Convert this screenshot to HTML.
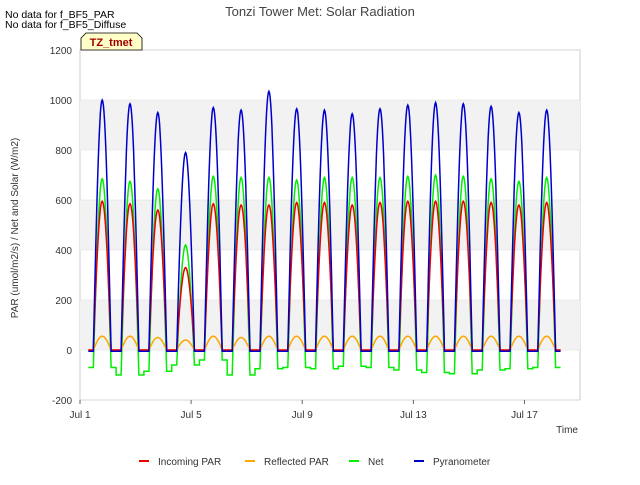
<!DOCTYPE html>
<html><head><meta charset="utf-8"><style>
body{margin:0;background:#fff;font-family:"Liberation Sans",sans-serif;}
svg text{font-family:"Liberation Sans",sans-serif;}
</style></head><body>
<svg id="c" width="640" height="480">
<rect width="640" height="480" fill="#fff"/>
<text x="320" y="16" text-anchor="middle" font-size="13" fill="#444">Tonzi Tower Met: Solar Radiation</text>
<text x="5" y="18" font-size="10.5" fill="#000">No data for f_BF5_PAR</text>
<text x="5" y="28" font-size="10.5" fill="#000">No data for f_BF5_Diffuse</text>
<g id="plot"></g>
<g>
<path d="M81,50 L81,38 L86,33 L137,33 L142,38 L142,50 Z" fill="#ffffc8" stroke="#000" stroke-width="0.8"/>
<text x="111" y="46" text-anchor="middle" font-size="11" font-weight="bold" fill="#a00000">TZ_tmet</text>
</g>
<text transform="translate(18,228) rotate(-90)" text-anchor="middle" font-size="10" fill="#333">PAR (umol/m2/s) / Net and Solar (W/m2)</text>
<text x="578" y="433" text-anchor="end" font-size="10" fill="#333">Time</text>
<g id="legend"></g>
</svg>
<script>
const yTicks=[-200,0,200,400,600,800,1000,1200];
const xTickDays=[1,5,9,13,17];
const xTickLabels=["Jul 1","Jul 5","Jul 9","Jul 13","Jul 17"];
const days=[1,2,3,4,5,6,7,8,9,10,11,12,13,14,15,16,17];
const pyranoPeaks=[1000,985,950,790,970,960,1035,965,960,945,965,980,990,985,975,950,960];
const parPeaks=[595,585,560,330,585,580,580,590,590,580,590,595,595,595,590,580,590];
const netPeaks=[685,675,645,420,695,690,690,680,690,690,690,695,700,695,685,675,690];
const reflPeaks=[55,55,50,40,55,50,55,55,55,55,55,55,55,55,55,55,55];
const netNight=[-70,-100,-85,-60,-40,-100,-75,-70,-75,-65,-70,-80,-90,-95,-80,-75,-70];
const pyranoNight=-5;
const NS="http://www.w3.org/2000/svg";
const L=80,R=580,T=50,B=400;
const xs=d=>L+(d-1)*(R-L)/18;
const ys=v=>B-(v+200)*(B-T)/1400;
const plot=document.getElementById('plot');
function mk(tag,attrs,parent){const e=document.createElementNS(NS,tag);for(const k in attrs)e.setAttribute(k,attrs[k]);(parent||plot).appendChild(e);return e;}
mk('rect',{x:L,y:T,width:R-L,height:B-T,fill:'#fff',stroke:'#ccc'});
for(let i=0;i<yTicks.length-1;i++){
 if(i%2==1){const r=mk('rect',{x:L,y:ys(yTicks[i+1]),width:R-L,height:ys(yTicks[i])-ys(yTicks[i+1]),fill:'#f2f2f2'});
 
 }
}
yTicks.forEach(v=>{
 mk('line',{x1:L,x2:R,y1:ys(v),y2:ys(v),stroke:'#ddd','stroke-width':0.6});
 const t=mk('text',{x:L-8,y:ys(v)+4,'text-anchor':'end','font-size':10,fill:'#333'});t.textContent=v;
 
 
});
xTickDays.forEach((d,i)=>{
 mk('line',{x1:xs(d),x2:xs(d),y1:B,y2:B+4,stroke:'#666'});
 const t=mk('text',{x:xs(d),y:B+18,'text-anchor':'middle','font-size':10,fill:'#333'});t.textContent=xTickLabels[i];
 
 
});
function series(peaks,night,color,name){
 let pts=[];
 days.forEach((d,i)=>{
  const nv=Array.isArray(night)?night[i]:night;
  const s=d+0.48,e=d+1.12;
  pts.push([d+0.3,nv]);
  for(let k=0;k<=30;k++){const f=k/30;const dd=s+(e-s)*f;
   const v=Math.pow(Math.sin(Math.PI*f),1.0)*(peaks[i]-nv)+nv;pts.push([dd,v]);}
  pts.push([d+1.3,nv]);
 });
 const p=mk('path',{d:'M'+pts.map(q=>xs(q[0]).toFixed(1)+','+ys(q[1]).toFixed(1)).join('L'),fill:'none',stroke:color,'stroke-width':1.5});
 
 
}
series(netPeaks,netNight,'#00ee00','net-line');
series(reflPeaks,0,'#ffa500','reflected-par-line');
series(parPeaks,0,'#ee0000','incoming-par-line');
series(pyranoPeaks,pyranoNight,'#0000cc','pyranometer-line');
const lg=document.getElementById('legend');
const items=[["Incoming PAR","#ee0000",139],["Reflected PAR","#ffa500",245],["Net","#00ee00",349],["Pyranometer","#0000cc",414]];
items.forEach(it=>{
 const g=mk('g',{},lg);
 
 
 mk('line',{x1:it[2],x2:it[2]+10,y1:461,y2:461,stroke:it[1],'stroke-width':2},g);
 const t=mk('text',{x:it[2]+19,y:465,'font-size':10,fill:'#333'},g);t.textContent=it[0];
});
</script>
</body></html>
